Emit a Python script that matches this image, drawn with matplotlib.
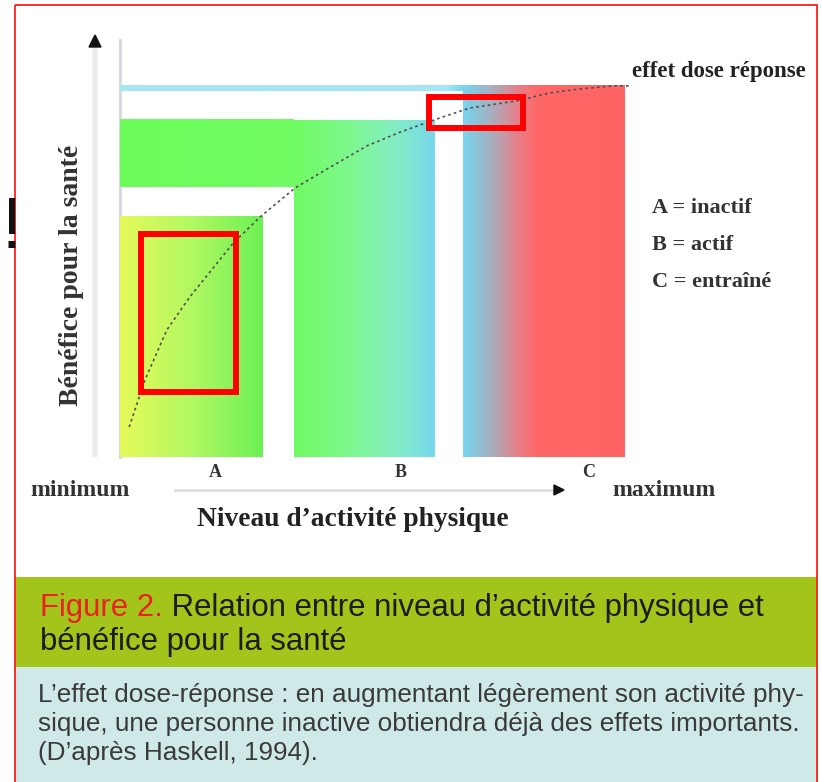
"""Relation entre niveau d'activité physique et bénéfice pour la santé (d'après Haskell, 1994).
Schéma : trois zones A/B/C en dégradé + courbe dose-réponse, encadré légende en bas."""
import numpy as np
import matplotlib
matplotlib.use("Agg")
import matplotlib.pyplot as plt
from matplotlib.colors import LinearSegmentedColormap, Normalize
from matplotlib.patches import Rectangle, Polygon

# ---- data (activity level 0-100 on x, health benefit 0-100 on y) ----
zones = ["A", "B", "C"]
zone_legend = ["A = inactif", "B = actif", "C = entraîné"]
zone_start = [0.0, 34.1, 67.3]
zone_end = [28.0, 61.6, 99.0]
zone_benefit = [57.6, 80.8, 89.2]      # top of each zone
band_bottom = [None, 64.7, 87.8]       # lower edge of the horizontal arm (B, C)

curve_activity = [1.8, 4.9, 9.2, 13.7, 22.2, 27.5, 34.3, 41.2, 48.4, 54.9,
                  62.7, 68.6, 77.8, 84.3, 89.8, 96.7, 100.4]
curve_benefit = [7.2, 18.5, 30.5, 38.4, 51.3, 57.6, 64.5, 69.5, 74.6, 77.9,
                 81.3, 83.7, 85.4, 87.3, 88.2, 89.0, 89.0]

# highlight boxes (x0, x1, y0, y1) in data units
boxes = [(4.1, 22.7, 15.6, 53.5), (60.6, 79.0, 78.9, 86.3)]

label_x = [18.6, 55.1, 91.8]

title_red = "Figure 2."
title_rest = " Relation entre niveau d\u2019activité physique et"
title_line2 = "bénéfice pour la santé"
note_lines = ["L\u2019effet dose-réponse : en augmentant légèrement son activité phy-",
              "sique, une personne inactive obtiendra déjà des effets importants.",
              "(D\u2019après Haskell, 1994)."]

# gradient colour stops (position along x in data units, colour)
cmaps = [
    [(0, "#e6fa5a"), (14, "#b2f862"), (28, "#6cf055")],
    [(0, "#6bfd5a"), (34, "#70fb62"), (45, "#7ef88e"), (53, "#84efbe"), (61.6, "#78d8ec")],
    [(0, "#a4e6f4"), (64, "#a4e6f4"), (67.3, "#76d6f0"), (73, "#a8aebe"), (78, "#e6808a"),
     (82, "#ff6767"), (99, "#ff6464")],
]

W, H = 822, 782
fig = plt.figure(figsize=(W / 100, H / 100), dpi=100)
bg = fig.add_axes([0, 0, 1, 1])
bg.set_xlim(0, W); bg.set_ylim(H, 0); bg.axis("off")

# caption bands + red frame
bg.add_patch(Rectangle((15, 577), 802, 90, color="#a3c41a", lw=0))
bg.add_patch(Rectangle((15, 667), 802, 130, color="#cfe8e8", lw=0))
bg.add_patch(Rectangle((15, 5), 802, 800, fill=False, ec="#ff1e1e", lw=1.3))

# chart axes: px x 120..630, y 457..40
ax = fig.add_axes([120 / W, (H - 457) / H, 510 / W, 417 / H])
ax.patch.set_alpha(0)


def grad(x0, x1, y0, y1, cm, xmax):
    xs = np.linspace(x0, x1, 300)
    ax.imshow(xs[None, :], extent=(x0, x1, y0, y1), cmap=cm, norm=Normalize(0, xmax),
              aspect="auto", origin="lower", interpolation="bilinear", zorder=1)


for i, z in enumerate(zones):
    stops = cmaps[i]
    xmax = stops[-1][0]
    cm = LinearSegmentedColormap.from_list(z, [(p / xmax, c) for p, c in stops])
    grad(zone_start[i], zone_end[i], 0, zone_benefit[i], cm, xmax)
    if band_bottom[i] is not None:
        grad(0, zone_start[i], band_bottom[i], zone_benefit[i], cm, xmax)

ax.plot(curve_activity, curve_benefit, color="#505050", lw=1.2, ls=(0, (1.6, 1.9)), zorder=3, clip_on=False)
for x0, x1, y0, y1 in boxes:
    ax.add_patch(Rectangle((x0, y0), x1 - x0, y1 - y0, fill=False, ec="#ff0000", lw=4.3, zorder=4))

ax.set_xlim(0, 100); ax.set_ylim(0, 100)
for s in ["top", "right", "bottom"]:
    ax.spines[s].set_visible(False)
ax.spines["left"].set_color("#d4dae0"); ax.spines["left"].set_linewidth(2.2)
ax.spines["left"].set_zorder(0)
ax.set_yticks([])
ax.set_xticks(label_x, zones)
ax.tick_params(axis="x", length=0, pad=5)
for t in ax.get_xticklabels():
    t.set_fontfamily("Liberation Serif"); t.set_fontweight("bold"); t.set_fontsize(13); t.set_color("#333333")

# axis arrows (decor)
serif = "Liberation Serif"
bg.plot([95, 95], [457, 44], color="#ececec", lw=4, solid_capstyle="butt", zorder=2)
bg.add_patch(Polygon([[89, 47], [101, 47], [95, 35]], color="#111111", zorder=3))
bg.plot([175, 556], [490, 490], color="#dde1e5", lw=2, zorder=2)
bg.add_patch(Polygon([[554, 485], [554, 495], [564, 490]], color="#111111", zorder=3))

bg.text(71, 275, "Bénéfice pour la santé", rotation=90, ha="center", va="center",
        fontsize=20, fontweight="bold", family=serif, color="#333333")
bg.text(353, 520, "Niveau d\u2019activité physique", ha="center", va="center",
        fontsize=19.8, fontweight="bold", family=serif, color="#222222")
bg.text(80, 490, "minimum", ha="center", va="center", fontsize=17, fontweight="bold", family=serif, color="#333333")
bg.text(664, 490, "maximum", ha="center", va="center", fontsize=17, fontweight="bold", family=serif, color="#333333")
bg.text(632, 71, "effet dose réponse", ha="left", va="center", fontsize=16.5, fontweight="bold",
        family=serif, color="#222222")
for lab, y in zip(zone_legend, [208, 245, 282]):
    bg.text(652, y, lab, ha="left", va="center", fontsize=16, fontweight="bold", family=serif, color="#333333")
bg.text(1, 230, "!", ha="left", va="center", fontsize=52, family="Liberation Sans", color="#111111")

sans = "Liberation Sans"
t1 = bg.text(40, 616, title_red, ha="left", va="baseline", fontsize=22.4, family=sans, color="#e8231f")
bg.annotate(title_rest, xy=(1, 0), xycoords=t1, ha="left", va="bottom", fontsize=22.4, family=sans, color="#1c1c1c")
bg.text(40, 650, title_line2, ha="left", va="baseline", fontsize=22.4, family=sans, color="#1c1c1c")
for line, y in zip(note_lines, [702, 731, 760]):
    bg.text(38, y, line, ha="left", va="baseline", fontsize=18.8, family=sans, color="#3a3a3a")

fig.savefig("out.png", dpi=100)
